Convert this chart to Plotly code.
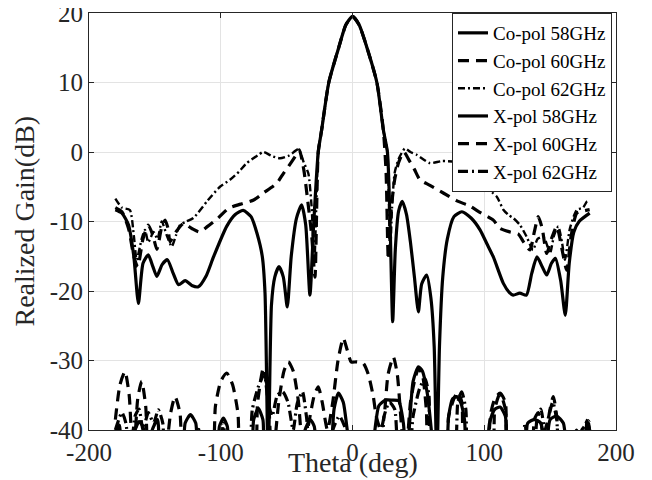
import plotly.graph_objects as go

# ---------------- data ----------------
co58_theta = [-180, -175, -170, -166, -162.5, -159, -155, -151.5, -148.5, -144.5, -140.5, -136, -132, -127, -122,
              -117, -111, -105.5, -95.5, -89, -83, -77, -72.5, -68.5, -66.4, -64, -61.5, -59, -55.8, -52.5, -49.5,
              -46.5, -42.5, -38.6, -35.5, -32.3, -29.5, -26, -23.4, -18, -10.5, -5, 0, 5, 11, 18.5, 23.4, 26.5,
              28.5, 30.5, 32.5, 35, 37.8, 41, 44, 47, 50, 52.5, 56.3, 59.5, 62, 64, 66, 68.5, 72, 77, 83, 90,
              96.8, 102, 106.9, 114.5, 119, 122, 127, 132, 136, 140, 144, 147.4, 151, 154, 158, 161.5, 164.5,
              168, 172, 180]
co58_gain = [-8.3, -8.8, -10.5, -15, -21.8, -16, -14.8, -16.5, -17.9, -16.2, -15.5, -17.5, -19.1, -18.5, -19.2,
             -19.4, -17.8, -15.1, -10.7, -9.0, -8.4, -9.3, -11.7, -15, -20.3, -45, -22, -18, -16.5, -18, -22.3,
             -15, -9.5, -7.6, -10.5, -20.6, -10.5, 0, 3.2, 10, 15, 18.3, 19.5, 18.3, 15, 10, 3.2, 0,
             -10, -24.4, -14, -8.5, -7.1, -9, -13, -18, -23, -19, -17.7, -21, -28, -45, -28, -18, -12.5, -9.3, -8.6, -9.5,
             -11.2, -13.2, -15.1, -18.9, -20.2, -20.6, -20.3, -20.6, -17.5, -15.1, -16.5, -17.7, -16, -15.3, -18.5,
             -23.5, -16, -11.5, -10, -8.8]

co60_theta = [-180, -175, -170, -166, -163, -159, -155, -151.5, -148.5, -145, -142.3, -140, -138.5, -134, -128.4,
              -122, -116, -110, -102, -94, -85, -75, -67.7, -57.5, -52.5, -48.7, -43, -40.4, -37, -34, -31, -28.5,
              -26, -23.4, -18, -10.5, -5, 0, 5, 11, 18.5, 23.4, 25.5, 27.2, 29.5, 32, 35, 39, 43, 47, 51.2, 58.8,
              68.9, 79, 89.2, 96, 106.9, 112, 119.5, 125.8, 130, 134.7, 138, 141, 144, 147.4, 151, 155, 159, 162.6,
              166, 170.2, 175, 180]
co60_gain = [-8.0, -8.6, -11, -15, -16.5, -12.5, -10.5, -12, -14, -11, -9.8, -11, -12.9, -11.5, -10.3,
             -11, -11.5, -10.7, -9.5, -8.1, -7.5, -6.9, -5.9, -4.5, -3.1, -2.1, -0.5, 0.3, -2.5, -7, -12, -18,
             0, 3.2, 10, 15, 18.3, 19.5, 18.3, 15, 10, 3.2, -3, -15.5, -8, -4, -1.5, 0, -1.2, -2.5, -4.0, -4.8,
             -5.9, -7, -7.8, -8.6, -9.8, -11, -11.5, -11.8, -13, -14.1, -11.5, -9.3, -11, -14.6, -12.5, -10.7, -14, -17,
             -12, -8.8, -8.5, -8.3]

co62_theta = [-180, -175, -169, -166, -163.8, -160, -157.5, -155, -151, -148, -144.8, -141, -137.2, -134, -130.9,
              -126, -120.8, -110, -100.6, -93, -86, -80.3, -72, -67.7, -61, -55, -48, -41.1, -37, -33.5, -31, -29,
              -26, -23.4, -18, -10.5, -5, 0, 5, 11, 18.5, 23.4, 26.5, 28.5, 30, 32, 35, 39.8, 44, 48.7, 58.8, 68,
              79, 88, 96.8, 109.4, 114.5, 118.6, 122, 127.1, 132.2, 137, 140.5, 144.8, 147, 149.9, 153, 156.2, 159,
              161.3, 165, 170.2, 175, 178, 180]
co62_gain = [-6.7, -8.0, -8.35, -12, -15.5, -12.5, -11.2, -13, -11.5, -12.5, -10.0, -12, -13.6, -12, -10.5,
             -10, -9.5, -7, -5.0, -4.0, -2.8, -1.6, -0.5, 0.0, -0.6, -0.9, -0.5, 0.4, -1.5, -3.1, -8, -16,
             0, 3.2, 10, 15, 18.3, 19.5, 18.3, 15, 10, 3.2, 0, -15, -8, -3, -1, 0.5, 0, -0.4, -1.6, -1.3,
             -1.5, -3, -4.5, -6.4, -8.3, -9.1, -9.5, -10.5, -12.2, -14.1, -12.5, -12.2, -13, -14.6, -12, -10.7, -13,
             -15.5, -11, -8.35, -8, -7.1, -7]

xp58_theta = [-180, -177, -174, -168, -165, -162, -159, -156, -152, -148, -145, -141, -130, -127, -123, -119, -116,
              -104, -101, -98, -95, -92, -78, -75, -71.5, -68, -65, -40, -36, -32, -29, -26, -23, -18, -14, -10.7,
              -7, -4, 0, 14, 17, 20, 25, 30, 35, 38.6, 41, 43, 46, 50, 53, 57, 61, 64, 70, 73, 76, 79, 82, 85, 88,
              100, 104, 108, 112, 116, 119, 130, 133, 138, 143, 146, 150, 155, 160, 165, 175, 178, 180]
xp58_gain = [-40.5, -39.3, -45, -45, -40, -38.8, -39.5, -45, -40, -38.5, -45, -45, -45, -39, -37.8, -39, -45,
             -45, -39.5, -38.3, -39.5, -45, -45, -38.5, -36.9, -38.5, -45, -45, -40, -38.5, -39.5, -45, -45, -45,
             -37, -34.7, -36, -40, -45, -45, -40, -36.5, -35.7, -35.7, -35.8, -39, -45, -40, -33, -30.9, -31.5,
             -35, -42, -45, -45, -38, -35.5, -35.2, -36, -38.5, -45, -45, -39, -37, -36.7, -38, -45, -45, -39,
             -38.5, -39, -45, -38.5, -38, -39, -45, -45, -38.6, -40]

xp60_theta = [-180, -176.5, -172.7, -169.5, -166.5, -163, -160, -157, -154, -150, -144, -138, -134.7, -131, -127,
              -108, -104, -100, -95.5, -91, -87, -84, -75, -72, -67.7, -64, -61, -56, -52, -48.7, -45, -41, -37,
              -34, -32.3, -29, -26, -23, -19, -15, -11, -7, -4, -1, 3, 8.2, 12, 15.8, 18, 21.4, 24, 27, 31, 34, 37,
              40, 44, 47, 50, 53, 56, 59, 70, 73, 77, 80, 83, 86, 100, 105, 108, 112, 116, 119, 135, 138, 141,
              144, 147, 149, 152.4, 155, 158, 165, 170, 175, 178, 180]
xp60_gain = [-38.5, -33.5, -31.6, -35, -45, -35.5, -33, -36.5, -45, -45, -45, -37.5, -35.2, -37.5, -45,
             -45, -36.5, -33, -31.8, -33.5, -37.5, -45, -45, -36, -31.1, -35, -45, -36, -31.5, -30.2, -31.5, -36, -45,
             -40, -38.1, -35, -33.8, -36, -40, -36, -30, -26.8, -28.5, -30.2, -30.2, -30.4, -32, -35.2, -38, -40,
             -38, -32, -29.5, -32, -39, -45, -36, -33, -31.2, -32, -37, -45, -45, -38, -35.5, -34.5, -36, -45,
             -45, -37.5, -35.5, -34.7, -36, -45, -45, -38.5, -37.5, -40, -45, -38, -35.2, -38, -45, -45, -40, -45,
             -39, -38.6]

xp62_theta = [-180, -175, -172, -169, -165, -162, -159, -155, -151, -147.4, -144, -141, -120, -117, -114, -102,
              -98, -94, -80, -76, -71, -67, -64, -61, -57, -53, -49, -45, -42, -38, -35, -30, -20, -15, -10, -5, 0,
              20, 24, 28, 32, 36, 42, 46, 51, 55, 58, 61, 76, 80, 82.9, 86, 89, 105, 108, 112, 116, 119, 127, 131,
              134, 137, 140, 143, 146, 149, 152, 155, 158, 170, 174, 176, 178.5, 180]
xp62_gain = [-40, -37.5, -39, -45, -38, -37, -40, -37.5, -39, -37.1, -39, -45, -45, -39.5, -45, -45,
             -39, -45, -45, -37, -33.5, -32, -36, -38, -35, -34.5, -36, -40, -36.2, -34.5, -38, -45, -45, -40, -38,
             -40, -45, -45, -38, -36, -37, -45, -45, -38, -34, -32.6, -35, -45, -45, -36, -34.5, -37, -45, -45, -37,
             -34.7, -37, -45, -45, -39, -45, -45, -38.5, -37, -40, -38, -36, -38.5, -45, -45, -40, -39.5, -38.6, -40]

x_ticks = [-200, -100, 0, 100, 200]
x_ticktext = ["-200", "-100", "0", "100", "200"]
y_ticks = [-40, -30, -20, -10, 0, 10, 20]
y_ticktext = ["-40", "-30", "-20", "-10", "0", "10", "20"]

series = [
    ("Co-pol 58GHz", co58_theta, co58_gain, "solid", 3.2),
    ("Co-pol 60GHz", co60_theta, co60_gain, "11px,7px", 3.2),
    ("Co-pol 62GHz", co62_theta, co62_gain, "7px,3px,2px,3px", 2.4),
    ("X-pol 58GHz", xp58_theta, xp58_gain, "solid", 3.2),
    ("X-pol 60GHz", xp60_theta, xp60_gain, "11px,7px", 3.2),
    ("X-pol 62GHz", xp62_theta, xp62_gain, "10px,4px,2px,4px", 3.2),
]

FONT = "Liberation Serif, Times New Roman, serif"
fig = go.Figure()
for name, th, g, dash, w in series:
    fig.add_trace(go.Scatter(x=th, y=g, mode="lines", name=name,
                             line=dict(color="black", width=w, dash=dash, shape="spline", smoothing=0.6)))

axis_common = dict(showline=True, linecolor="#262626", linewidth=1, mirror="ticks",
                   ticks="inside", ticklen=5, tickcolor="#262626",
                   showgrid=True, gridcolor="#e3e3e3", gridwidth=1, zeroline=False,
                   ticklabeloverflow="allow",
                   tickfont=dict(family=FONT, size=25, color="#262626"))
fig.update_xaxes(range=[-200, 200], tickvals=x_ticks, ticktext=x_ticktext, **axis_common)
fig.update_yaxes(range=[-40, 20], tickvals=y_ticks, ticktext=y_ticktext, **axis_common)

# the page body has an 8px margin, so the figure is 8px smaller than the window
fig.update_layout(
    width=644, height=472,
    margin=dict(l=81, r=36, t=5, b=50, autoexpand=False),
    paper_bgcolor="white", plot_bgcolor="white",
    showlegend=True,
    legend=dict(x=0.9924, y=1.0, xanchor="right", yanchor="top",
                bgcolor="white", bordercolor="#262626", borderwidth=1,
                font=dict(family=FONT, size=19, color="black"),
                tracegroupgap=0, itemwidth=30),
    annotations=[
        dict(text="Theta (deg)", xref="paper", yref="paper", x=0.5, y=0, yshift=-32,
             xanchor="center", yanchor="middle", showarrow=False,
             font=dict(family=FONT, size=28, color="#262626")),
        dict(text="Realized Gain(dB)", xref="paper", yref="paper", x=0, xshift=-65, y=0.5,
             xanchor="center", yanchor="middle", textangle=-90, showarrow=False,
             font=dict(family=FONT, size=28, color="#262626")),
    ],
)
fig.write_html("out.html")
